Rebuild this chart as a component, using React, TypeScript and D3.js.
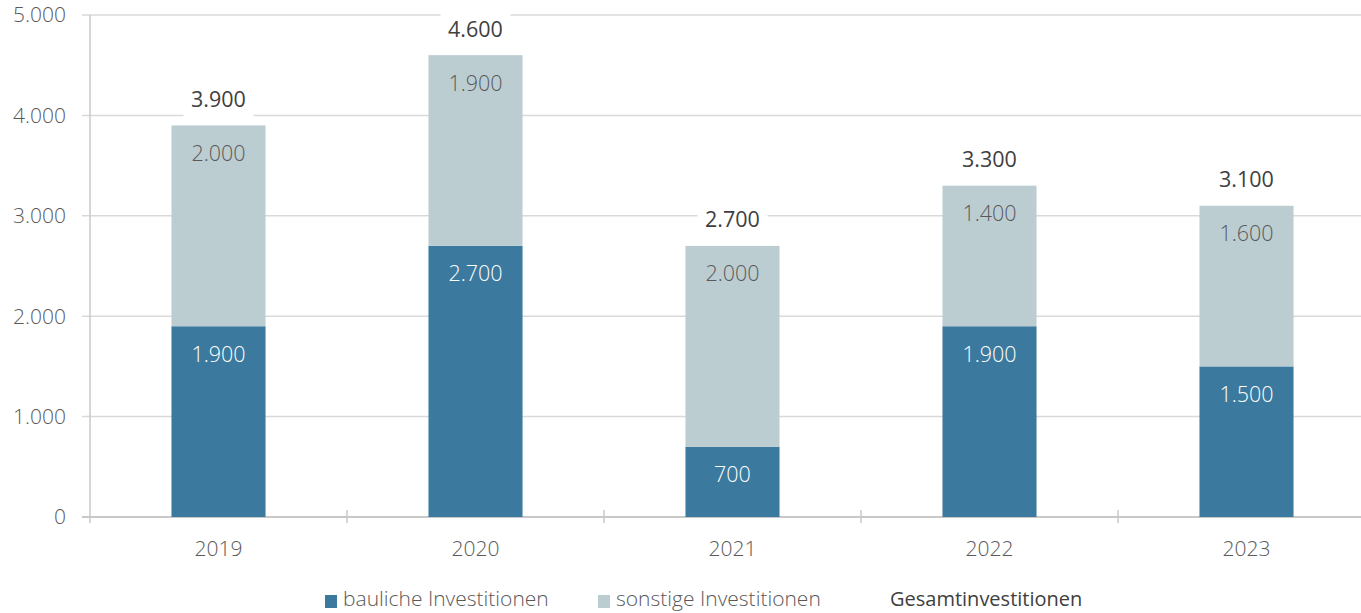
import React from "react";
import * as d3 from "d3";

const years = ["2019", "2020", "2021", "2022", "2023"];
const bauliche = [1900, 2700, 700, 1900, 1500];
const sonstige = [2000, 1900, 2000, 1400, 1600];
const totals = [3900, 4600, 2700, 3300, 3100];
const yTicks = [0, 1000, 2000, 3000, 4000, 5000];

const W = 1361;
const H = 613;
const FONT = "'Open Sans', 'Noto Sans', sans-serif";
const BLUE = "#3b7a9e";
const LIGHT = "#bccdd2";
const GRID = "#d9d9d9";
const TXT = "#595959";

const fmt = (v: number) => d3.format(",")(v).replace(/,/g, ".");

export default function App() {
  const left = 90;
  const bandW = 257;
  const x = d3
    .scaleBand<string>()
    .domain(years)
    .range([left, left + bandW * years.length])
    .paddingInner(0.634)
    .paddingOuter(0.317);
  const y = d3.scaleLinear().domain([0, 5000]).range([517, 15]);
  const bw = x.bandwidth();

  return (
    <svg width={W} height={H} style={{ position: "absolute", left: 0, top: 0, background: "#fff" }}>
      {yTicks.map((t) => (
        <g key={t}>
          <line x1={82} x2={W} y1={y(t)} y2={y(t)} stroke={t === 0 ? "#c8c8c8" : GRID} strokeWidth={t === 0 ? 2 : 1.5} />
          <text x={66} y={y(t)} dy="0.35em" textAnchor="end" fontFamily={FONT} fontWeight={300} fontSize={21} fill={TXT}>
            {fmt(t)}
          </text>
        </g>
      ))}
      <line x1={left} x2={left} y1={y(5000)} y2={y(0) + 6} stroke="#c8c8c8" strokeWidth={1.5} />
      {years.map((_, i) => (
        <line key={i} x1={left + bandW * (i + 1)} x2={left + bandW * (i + 1)} y1={y(0) - 7} y2={y(0) + 6} stroke="#c8c8c8" strokeWidth={1.5} />
      ))}
      {years.map((yr, i) => {
        const x0 = x(yr)!;
        const cx = x0 + bw / 2;
        const b = bauliche[i];
        const s = sonstige[i];
        return (
          <g key={yr}>
            <rect x={x0} width={bw} y={y(b)} height={y(0) - y(b)} fill={BLUE} />
            <rect x={x0} width={bw} y={y(b + s)} height={y(b) - y(b + s)} fill={LIGHT} />
            <text x={cx} y={y(b) + 28} dy="0.35em" textAnchor="middle" fontFamily={FONT} fontWeight={300} fontSize={21.5} fill="#ffffff">
              {fmt(b)}
            </text>
            <text x={cx} y={y(b + s) + 28} dy="0.35em" textAnchor="middle" fontFamily={FONT} fontWeight={300} fontSize={21.5} fill={TXT}>
              {fmt(s)}
            </text>
            <rect x={cx - 35} width={70} y={y(totals[i]) - 44} height={36} fill="#fff" />
            <text x={cx} y={y(totals[i]) - 26} dy="0.35em" textAnchor="middle" fontFamily={FONT} fontWeight={400} fontSize={21.5} fill="#404040">
              {fmt(totals[i])}
            </text>
            <text x={cx} y={549} dy="0.35em" textAnchor="middle" fontFamily={FONT} fontWeight={300} fontSize={21} fill={TXT}>
              {yr}
            </text>
          </g>
        );
      })}
      <rect x={325} y={595} width={12} height={13} fill={BLUE} />
      <text x={343} y={599} dy="0.35em" fontFamily={FONT} fontWeight={300} fontSize={21} fill={TXT}>bauliche Investitionen</text>
      <rect x={598} y={595} width={12} height={13} fill={LIGHT} />
      <text x={616} y={599} dy="0.35em" fontFamily={FONT} fontWeight={300} fontSize={21} fill={TXT}>sonstige Investitionen</text>
      <text x={890} y={599} dy="0.35em" fontFamily={FONT} fontWeight={400} fontSize={20} fill="#404040">Gesamtinvestitionen</text>
    </svg>
  );
}
